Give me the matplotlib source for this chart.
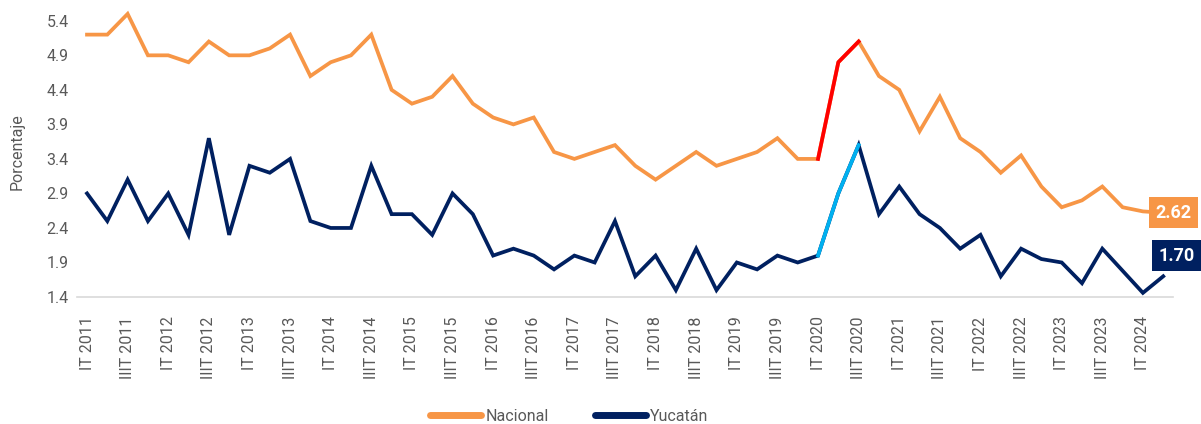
import numpy as np
import matplotlib
matplotlib.use("Agg")
from matplotlib import pyplot as plt

plt.rcParams['font.family'] = ['Roboto', 'DejaVu Sans']

# quarterly labels, IT 2011 .. IIT 2024
quarters = []
for year in range(2011, 2025):
    for q in ["IT", "IIT", "IIIT", "IVT"]:
        quarters.append(q + " " + str(year))
quarters = quarters[:54]

nacional = [5.2, 5.2, 5.5, 4.9, 4.9, 4.8, 5.1, 4.9, 4.9, 5.0,
            5.2, 4.6, 4.8, 4.9, 5.2, 4.4, 4.2, 4.3, 4.6, 4.2,
            4.0, 3.9, 4.0, 3.5, 3.4, 3.5, 3.6, 3.3, 3.1, 3.3,
            3.5, 3.3, 3.4, 3.5, 3.7, 3.4, 3.4, 4.8, 5.1, 4.6,
            4.4, 3.8, 4.3, 3.7, 3.5, 3.2, 3.45, 3.0, 2.7, 2.8,
            3.0, 2.7, 2.64, 2.62]

yucatan = [2.9, 2.5, 3.1, 2.5, 2.9, 2.3, 3.7, 2.3, 3.3, 3.2,
           3.4, 2.5, 2.4, 2.4, 3.3, 2.6, 2.6, 2.3, 2.9, 2.6,
           2.0, 2.1, 2.0, 1.8, 2.0, 1.9, 2.5, 1.7, 2.0, 1.5,
           2.1, 1.5, 1.9, 1.8, 2.0, 1.9, 2.0, 2.9, 3.6, 2.6,
           3.0, 2.6, 2.4, 2.1, 2.3, 1.7, 2.1, 1.95, 1.9, 1.6,
           2.1, 1.78, 1.46, 1.70]

# pandemic segment highlighted (IT 2020 -> IIIT 2020)
hl_start, hl_end = 36, 38

orange = "#F79646"
navy = "#002060"
gray = "#595959"

x = np.arange(len(quarters))

fig = plt.figure(figsize=(12.01, 4.24), dpi=100)
ax = fig.add_axes([0.064, 0.2995, 0.913, 0.684])

ax.plot(x, nacional, color=orange, lw=2.7, label="Nacional", solid_joinstyle="miter", zorder=3)
ax.plot(x, yucatan, color=navy, lw=2.7, label="Yucatán", solid_joinstyle="miter", zorder=3)
seg = slice(hl_start, hl_end + 1)
ax.plot(x[seg], nacional[seg], color="#FF0000", lw=2.7, zorder=4)
ax.plot(x[seg], yucatan[seg], color="#00B0F0", lw=2.7, zorder=4)

ax.set_xlim(-0.5, len(quarters) - 0.5)
ax.set_ylim(1.4, 5.6)
ax.set_yticks(np.arange(1.4, 5.41, 0.5))
ax.set_yticklabels(["%.1f" % v for v in np.arange(1.4, 5.41, 0.5)])
ax.set_xticks(x[::2])
ax.set_xticklabels(quarters[::2], rotation=90)
ax.tick_params(axis='both', length=0, labelsize=11.5, colors=gray)
ax.tick_params(axis='x', pad=14)
ax.tick_params(axis='y', pad=6)

for s in ["top", "right", "left"]:
    ax.spines[s].set_visible(False)
ax.spines["bottom"].set_color("#D9D9D9")
ax.spines["bottom"].set_linewidth(1.2)

ax.set_ylabel("Porcentaje", color=gray, fontsize=11.5)
ax.yaxis.set_label_coords(-0.048, 0.5)

# end labels
ax.text(x[-1] + 0.5, nacional[-1], "%.2f" % nacional[-1], color="white", fontsize=13,
        fontweight="bold", ha="center", va="center", clip_on=False, zorder=5,
        bbox=dict(boxstyle="square,pad=0.35", fc=orange, ec="none"))
ax.text(x[-1] + 0.65, yucatan[-1] + 0.3, "%.2f" % yucatan[-1], color="white", fontsize=13,
        fontweight="bold", ha="center", va="center", clip_on=False, zorder=5,
        bbox=dict(boxstyle="square,pad=0.35", fc=navy, ec="none"))

leg = fig.legend(handles=ax.lines[:2], loc="center", bbox_to_anchor=(0.474, 0.018),
                 ncol=2, frameon=False, fontsize=11.5, handlelength=3.2,
                 handletextpad=0.25, columnspacing=2.9)
for t in leg.get_texts():
    t.set_color(gray)
for h in leg.legend_handles:
    h.set_linewidth(5)
    h.set_solid_capstyle("round")

fig.savefig("out.png", dpi=100)
